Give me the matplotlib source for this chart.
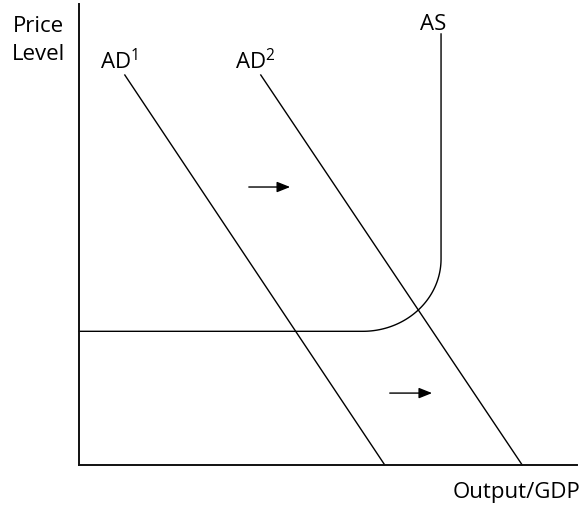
import numpy as np
import matplotlib
matplotlib.use("Agg")
import matplotlib.pyplot as plt

plt.rcParams['font.family'] = ['Open Sans', 'DejaVu Sans']
plt.rcParams['mathtext.default'] = 'regular'

# Data (in axis units 0..100)
ad1_x = [9.2, 61.4]
ad1_y = [84.6, 0.0]
ad2_x = [36.5, 89.0]
ad2_y = [84.6, 0.0]
as_horiz_x = [0.0, 57.0]
as_level_y = 29.0
as_vert_x = 72.7
as_vert_top = 93.5
as_knee_y = 44.7
arrow1 = [(34.1, 60.3), (42.4, 60.3)]
arrow2 = [(62.4, 15.6), (70.9, 15.6)]

fig = plt.figure(figsize=(5.82, 5.06), dpi=100)
ax = fig.add_axes([79/582, 40/506, (577-79)/582, (466-5)/506])
ax.set_xlim(0, 100)
ax.set_ylim(0, 100)
for s in ['top', 'right']:
    ax.spines[s].set_visible(False)
for s in ['left', 'bottom']:
    ax.spines[s].set_linewidth(1.4)
    ax.spines[s].set_color('#111111')
ax.set_xticks([])
ax.set_yticks([])

lw = 1.0
ax.plot(ad1_x, ad1_y, color='black', lw=lw, clip_on=False)
ax.plot(ad2_x, ad2_y, color='black', lw=lw, clip_on=False)

# AS curve: horizontal, quarter ellipse, vertical
r_x = as_vert_x - as_horiz_x[1]
r_y = as_knee_y - as_level_y
t = np.linspace(-np.pi/2, 0, 60)
cx = as_horiz_x[1] + r_x * np.cos(t)
cy = as_knee_y + r_y * np.sin(t)
xs = np.concatenate([[as_horiz_x[0]], cx, [as_vert_x]])
ys = np.concatenate([[as_level_y], cy, [as_vert_top]])
ax.plot(xs, ys, color='black', lw=lw, clip_on=False)

for a in (arrow1, arrow2):
    ax.annotate('', xy=a[1], xytext=a[0],
                arrowprops=dict(arrowstyle='-|>,head_length=0.5,head_width=0.2',
                                color='black', lw=1.0,
                                mutation_scale=16, shrinkA=0, shrinkB=0))

fs = 16
ax.text(4.2, 86.1, 'AD$^{1}$', fontsize=fs, ha='left', va='baseline')
ax.text(31.4, 86.1, 'AD$^{2}$', fontsize=fs, ha='left', va='baseline')
ax.text(71.2, 94.6, 'AS', fontsize=fs, ha='center', va='baseline')

fig.text(38/582, 1 - 32/506, 'Price', fontsize=fs, ha='center', va='baseline')
fig.text(38/582, 1 - 60/506, 'Level', fontsize=fs, ha='center', va='baseline')
fig.text(580/582, 1 - 498/506, 'Output/GDP', fontsize=fs, ha='right', va='baseline')

fig.savefig('out.png', dpi=100, facecolor='white')
